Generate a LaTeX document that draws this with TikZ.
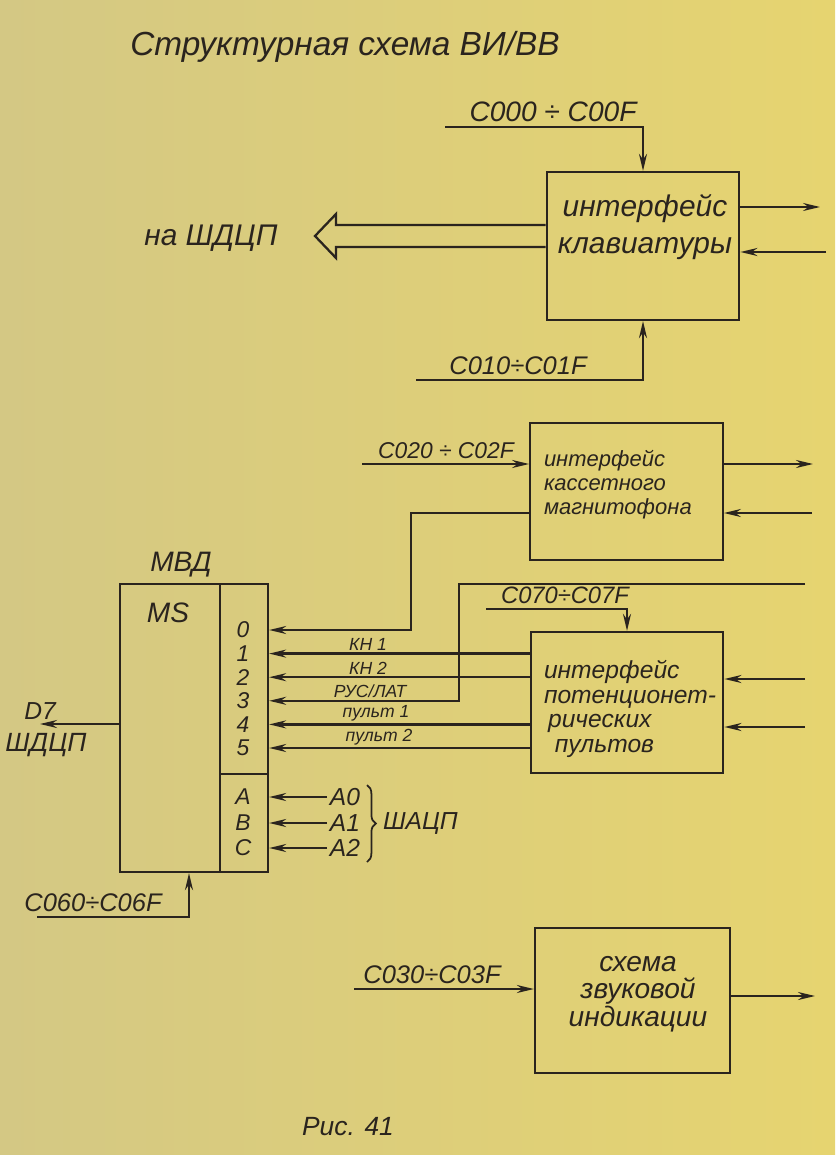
\documentclass[tikz,border=0pt]{standalone}
\usepackage{fontspec}
\setmainfont{Liberation Sans}
\usetikzlibrary{arrows.meta, positioning, calc, decorations.pathreplacing}

\definecolor{paperl}{RGB}{212,200,132}
\definecolor{paperr}{RGB}{230,212,112}
\definecolor{ink}{RGB}{42,36,30}

\begin{document}
\begin{tikzpicture}[x=0.02cm, y=-0.02cm, color=ink, line width=1.3pt,
    >={Stealth[length=3.4mm, width=1.6mm]},
    blk/.style={draw, minimum width=3.85cm, inner sep=0pt},
    ttitle/.style={font=\fontsize{19}{22}\selectfont\itshape},
    tbig/.style={font=\fontsize{17}{21}\selectfont\itshape},
    tmid/.style={font=\fontsize{14}{14}\selectfont\itshape},
    tadr/.style={font=\fontsize{14.5}{16}\selectfont\itshape, anchor=south, inner sep=1pt},
    tpin/.style={font=\fontsize{13}{13}\selectfont\itshape, inner sep=0pt},
    tsig/.style={font=\fontsize{10}{11}\selectfont\itshape, anchor=south, inner sep=1pt}]

  % paper
  \fill[left color=paperl, right color=paperr] (0,0) rectangle (835,1155);
  \useasboundingbox (0,0) rectangle (835,1155);

  \node[ttitle] (title) at (345,47) {Структурная схема ВИ/ВВ};

  % blocks
  \node[blk, minimum height=2.96cm] (kbd) at (643,246) {};
  \node[tbig, align=center] (kbdtxt) at (645,227) {интерфейс\\клавиатуры};

  \node[blk, minimum height=2.74cm] (cas) at (626.5,491.5) {};
  \node[font=\fontsize{12.5}{13.6}\selectfont\itshape, align=left, anchor=west] (castxt) at (537,485) {интерфейс\\кассетного\\магнитофона};

  \node[blk, minimum height=2.82cm] (pot) at (627,702.5) {};
  \node[tmid, align=left, anchor=west] (pottxt) at (537,709) {интерфейс\\потенционет-\\\,рических\\\ \,пультов};

  \node[blk, minimum width=3.9cm, minimum height=2.9cm] (snd) at (632.5,1000.5) {};
  \node[font=\fontsize{16}{15.5}\selectfont\itshape, align=center] (sndtxt) at (638,994) {схема\\звуковой\\индикации};

  % MS
  \node[draw, minimum width=2cm, minimum height=5.76cm] (msl) at (170,728) {};
  \node[draw, minimum width=0.96cm, minimum height=3.8cm] (pins) at (244,679) {};
  \node[draw, minimum width=0.96cm, minimum height=1.96cm] (addr) at (244,823) {};
  \node[font=\fontsize{16}{16}\selectfont\itshape] (mvd) at (181,565) {МВД};
  \node[font=\fontsize{16}{16}\selectfont\itshape] (msname) at (168,613) {MS};

  \foreach \i in {0,...,5} {
    \node[tpin] (p\i) at (243,{630+23.6*\i}) {\i};
  }

  % keyboard interface
  \coordinate (c000) at (445,127);
  \coordinate (c010) at (416,380);
  \draw[->] (c000) -| (kbd.north);
  \draw[->] (c010) -| (kbd.south);
  \node[tadr, font=\fontsize{16}{16}\selectfont\itshape] (lc000) at (553,125) {C000 ÷ C00F};
  \node[tadr] (lc010) at (518,378) {C010÷C01F};
  \coordinate (ko) at (820,207);
  \coordinate (ki) at (826,252);
  \draw[->] (kbd.east |- ko) -- (ko);
  \draw[->] (ki) -- (kbd.east |- ki);

  % bus arrow to data bus
  \coordinate (bu) at (336,225);
  \coordinate (bl) at (336,247);
  \coordinate (bt) at (315,236);
  \draw[line join=miter] (kbd.west |- bu) -- (bu) -- (336,214) -- (bt) -- (336,258) -- (bl) -- (kbd.west |- bl);
  \node[font=\fontsize{17}{17}\selectfont\itshape] (nabus) at (211,238) {на ШДЦП};

  % cassette interface
  \coordinate (c020) at (362,464);
  \draw[->] (c020) -- (cas.west |- c020);
  \node[tadr, font=\fontsize{13}{14}\selectfont\itshape] (lc020) at (446,462) {C020 ÷ C02F};
  \coordinate (co) at (813,464);
  \coordinate (ci) at (812,513);
  \draw[->] (cas.east |- co) -- (co);
  \draw[->] (ci) -- (cas.east |- ci);
  \coordinate (cbend) at (411,513);
  \draw[->] (cas.west |- cbend) -- (cbend) -- (cbend |- p0) -- (pins.east |- p0);

  % potentiometer interface
  \coordinate (c070) at (486,609);
  \draw[->] (c070) -| (pot.north);
  \node[tadr, font=\fontsize{13.5}{14}\selectfont\itshape] (lc070) at (565,607) {C070÷C07F};
  \foreach \k/\y in {1/679, 2/727} {
    \coordinate (pi\k) at (805,\y);
    \draw[->] (pi\k) -- (pot.east |- pi\k);
  }
  \foreach \i in {1,2,4,5} {
    \draw[->] (pot.west |- p\i) -- (pins.east |- p\i);
  }
  \coordinate (rl) at (459,584);
  \coordinate (rlend) at (805,584);
  \draw[->] (rlend) -- (rl) -- (rl |- p3) -- (pins.east |- p3);

  \node[tsig] (kn1) at (368,653.6) {КН 1};
  \node[tsig] (kn2) at (368,677.2) {КН 2};
  \node[tsig] (ruslat) at (370,700.8) {РУС/ЛАТ};
  \node[tsig] (pult1) at (376,724.4) {пульт 1};
  \node[tsig] (pult2) at (379,748) {пульт 2};

  % address inputs
  \foreach \n/\y/\l in {A/797/0, B/823/1, C/848/2} {
    \node[tpin] (pa\n) at (243,\y) {\n};
    \coordinate (ae\n) at (327,\y);
    \draw[->] (ae\n) -- (addr.east |- pa\n);
    \node[tmid, anchor=west, inner sep=1pt] (a\l) at (ae\n) {A\l};
  }
  \draw[decorate, decoration={brace, amplitude=5pt}, line width=1pt] (367,785) -- (367,862);
  \node[tmid, anchor=west] (shacp) at (376,823) {ШАЦП};

  % data out
  \coordinate (d7) at (40,724);
  \draw[->] (msl.west |- d7) -- (d7);
  \node[tmid, anchor=south, inner sep=1pt] (ld7) at (40,722) {D7};
  \node[font=\fontsize{15}{15}\selectfont\itshape] (shdcp) at (46,745) {ШДЦП};

  \coordinate (c060) at (37,917);
  \draw[->] (c060) -| ([xshift=0.38cm]msl.south);
  \node[tadr] (lc060) at (93,915) {C060÷C06F};

  % sound
  \coordinate (c030) at (354,989);
  \draw[->] (c030) -- (snd.west |- c030);
  \node[tadr] (lc030) at (432,987) {C030÷C03F};
  \coordinate (so) at (815,996);
  \draw[->] (snd.east |- so) -- (so);

  \node[font=\fontsize{15}{15}\selectfont\itshape] (fig) at (348,1127) {Рис. 41};
\end{tikzpicture}
\end{document}
